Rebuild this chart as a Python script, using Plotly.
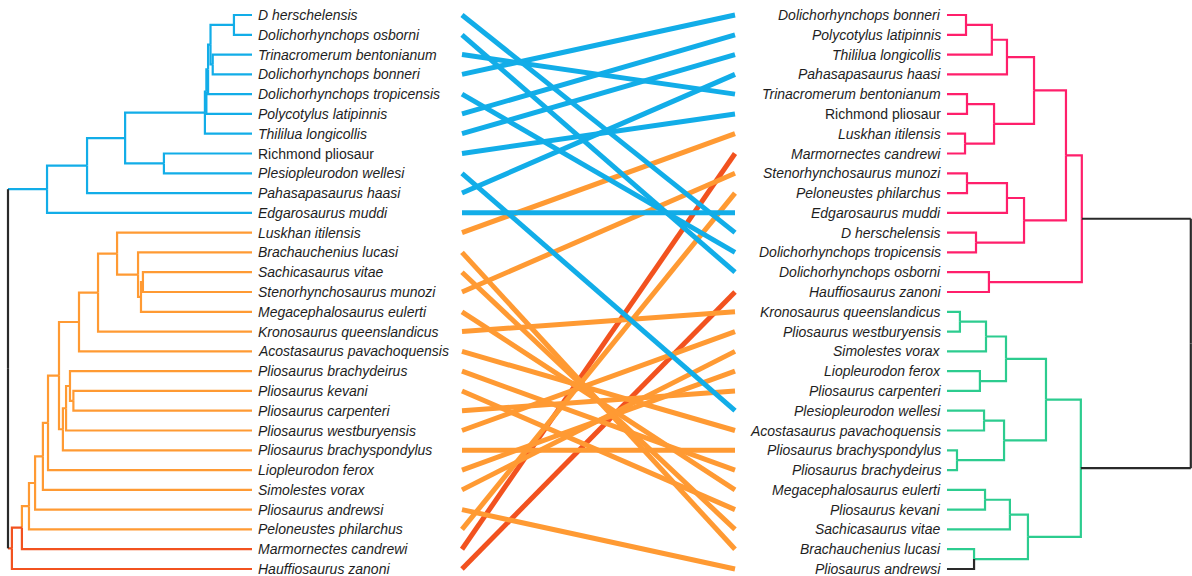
import plotly.graph_objects as go

# ---- leaf orders -------------------------------------------------------
left_leaves = [
    "D herschelensis", "Dolichorhynchops osborni", "Trinacromerum bentonianum",
    "Dolichorhynchops bonneri", "Dolichorhynchops tropicensis", "Polycotylus latipinnis",
    "Thililua longicollis", "Richmond pliosaur", "Plesiopleurodon wellesi",
    "Pahasapasaurus haasi", "Edgarosaurus muddi", "Luskhan itilensis",
    "Brachauchenius lucasi", "Sachicasaurus vitae", "Stenorhynchosaurus munozi",
    "Megacephalosaurus eulerti", "Kronosaurus queenslandicus", "Acostasaurus pavachoquensis",
    "Pliosaurus brachydeirus", "Pliosaurus kevani", "Pliosaurus carpenteri",
    "Pliosaurus westburyensis", "Pliosaurus brachyspondylus", "Liopleurodon ferox",
    "Simolestes vorax", "Pliosaurus andrewsi", "Peloneustes philarchus",
    "Marmornectes candrewi", "Hauffiosaurus zanoni",
]

right_leaves = [
    "Dolichorhynchops bonneri", "Polycotylus latipinnis", "Thililua longicollis",
    "Pahasapasaurus haasi", "Trinacromerum bentonianum", "Richmond pliosaur",
    "Luskhan itilensis", "Marmornectes candrewi", "Stenorhynchosaurus munozi",
    "Peloneustes philarchus", "Edgarosaurus muddi", "D herschelensis",
    "Dolichorhynchops tropicensis", "Dolichorhynchops osborni", "Hauffiosaurus zanoni",
    "Kronosaurus queenslandicus", "Pliosaurus westburyensis", "Simolestes vorax",
    "Liopleurodon ferox", "Pliosaurus carpenteri", "Plesiopleurodon wellesi",
    "Acostasaurus pavachoquensis", "Pliosaurus brachyspondylus", "Pliosaurus brachydeirus",
    "Megacephalosaurus eulerti", "Pliosaurus kevani", "Sachicasaurus vitae",
    "Brachauchenius lucasi", "Pliosaurus andrewsi",
]

# ---- merges: (child a, child b, height); "#k" refers to merge k ----------
left_merges = [
    ("D herschelensis", "Dolichorhynchops osborni", 0.074),          # 0
    ("Trinacromerum bentonianum", "Dolichorhynchops bonneri", 0.161), # 1
    ("#0", "#1", 0.170),                                              # 2
    ("#2", "Dolichorhynchops tropicensis", 0.180),                    # 3
    ("#3", "Polycotylus latipinnis", 0.187),                          # 4
    ("#4", "Thililua longicollis", 0.193),                            # 5
    ("Richmond pliosaur", "Plesiopleurodon wellesi", 0.361),          # 6
    ("#5", "#6", 0.520),                                              # 7
    ("#7", "Pahasapasaurus haasi", 0.676),                            # 8
    ("#8", "Edgarosaurus muddi", 0.840),                              # 9
    ("Sachicasaurus vitae", "Stenorhynchosaurus munozi", 0.447),      # 10
    ("#10", "Megacephalosaurus eulerti", 0.455),                      # 11
    ("Brachauchenius lucasi", "#11", 0.467),                          # 12
    ("Luskhan itilensis", "#12", 0.553),                              # 13
    ("#13", "Kronosaurus queenslandicus", 0.631),                     # 14
    ("#14", "Acostasaurus pavachoquensis", 0.709),                    # 15
    ("Pliosaurus kevani", "Pliosaurus carpenteri", 0.732),            # 16
    ("Pliosaurus brachydeirus", "#16", 0.746),                        # 17
    ("#17", "Pliosaurus westburyensis", 0.762),                       # 18
    ("#18", "Pliosaurus brachyspondylus", 0.775),                     # 19
    ("#15", "#19", 0.791),                                            # 20
    ("#20", "Liopleurodon ferox", 0.836),                             # 21
    ("#21", "Simolestes vorax", 0.857),                               # 22
    ("#22", "Pliosaurus andrewsi", 0.889),                            # 23
    ("#23", "Peloneustes philarchus", 0.914),                         # 24
    ("#24", "Marmornectes candrewi", 0.943),                          # 25
    ("#25", "Hauffiosaurus zanoni", 0.984),                           # 26
    ("#9", "#26", 1.000),                                             # 27
]

right_merges = [
    ("Dolichorhynchops bonneri", "Polycotylus latipinnis", 0.078),    # 0
    ("#0", "Thililua longicollis", 0.184),                            # 1
    ("#1", "Pahasapasaurus haasi", 0.246),                            # 2
    ("Trinacromerum bentonianum", "Richmond pliosaur", 0.082),        # 3
    ("Luskhan itilensis", "Marmornectes candrewi", 0.074),            # 4
    ("#3", "#4", 0.193),                                              # 5
    ("#2", "#5", 0.357),                                              # 6
    ("Stenorhynchosaurus munozi", "Peloneustes philarchus", 0.082),   # 7
    ("#7", "Edgarosaurus muddi", 0.246),                              # 8
    ("D herschelensis", "Dolichorhynchops tropicensis", 0.119),       # 9
    ("#8", "#9", 0.316),                                              # 10
    ("#6", "#10", 0.488),                                             # 11
    ("Dolichorhynchops osborni", "Hauffiosaurus zanoni", 0.172),      # 12
    ("#11", "#12", 0.553),                                            # 13
    ("Kronosaurus queenslandicus", "Pliosaurus westburyensis", 0.053),# 14
    ("#14", "Simolestes vorax", 0.160),                               # 15
    ("Liopleurodon ferox", "Pliosaurus carpenteri", 0.135),           # 16
    ("#15", "#16", 0.242),                                            # 17
    ("Plesiopleurodon wellesi", "Acostasaurus pavachoquensis", 0.152),# 18
    ("Pliosaurus brachyspondylus", "Pliosaurus brachydeirus", 0.041), # 19
    ("#18", "#19", 0.234),                                            # 20
    ("#17", "#20", 0.406),                                            # 21
    ("Megacephalosaurus eulerti", "Pliosaurus kevani", 0.156),        # 22
    ("#22", "Sachicasaurus vitae", 0.258),                            # 23
    ("Brachauchenius lucasi", "Pliosaurus andrewsi", 0.111),          # 24
    ("#23", "#24", 0.332),                                            # 25
    ("#21", "#25", 0.549),                                            # 26
    ("#13", "#26", 1.000),                                            # 27
]

# ---- colours -----------------------------------------------------------
BLUE = "#12ADE8"
ORANGE = "#FF9A33"
RED = "#F2521F"
PINK = "#FF1F6B"
GREEN = "#2CCC8F"
DARK = "#2a2a2a"
TEXT = "#1e1e1e"

left_clades = {"#9": BLUE, "#26": RED, "#24": ORANGE}
right_clades = {"#13": PINK, "#26": GREEN, "Pliosaurus andrewsi": DARK}


def layout_tree(leaves, merges):
    pos = {name: (0.0, float(i)) for i, name in enumerate(leaves)}
    children = {}
    for k, (a, b, h) in enumerate(merges):
        key = "#%d" % k
        pos[key] = (h, (pos[a][1] + pos[b][1]) / 2.0)
        children[key] = (a, b)
    return pos, children


def node_colours(children, root, clades):
    col = {}

    def walk(node, inherited):
        c = clades.get(node, inherited)
        col[node] = c
        for ch in children.get(node, ()):
            walk(ch, c)

    walk(root, DARK)
    return col


def tree_traces(leaves, merges, clades, xaxis, root_edges_dark):
    pos, children = layout_tree(leaves, merges)
    root = "#%d" % (len(merges) - 1)
    col = node_colours(children, root, clades)
    segs = {}

    def add(colour, xs, ys):
        bx, by = segs.setdefault(colour, ([], []))
        bx.extend(xs + [None])
        by.extend(ys + [None])

    for parent, (a, b) in children.items():
        hp, yp = pos[parent]
        for ch in (a, b):
            hc, yc = pos[ch]
            if parent == root:
                add(DARK, [hp, hp], [yp, yc])
                add(DARK if root_edges_dark else col[ch], [hp, hc], [yc, yc])
            else:
                add(col[ch], [hp, hp, hc], [yp, yc, yc])
    traces = []
    for colour, (xs, ys) in segs.items():
        traces.append(go.Scatter(
            x=xs, y=ys, mode="lines", xaxis=xaxis, yaxis="y",
            line=dict(color=colour, width=2.2), hoverinfo="skip", showlegend=False,
        ))
    return traces, col


fig = go.Figure()

left_tr, left_col = tree_traces(left_leaves, left_merges, left_clades, "x", False)
right_tr, right_col = tree_traces(right_leaves, right_merges, right_clades, "x3", True)

# connecting lines between the two leaf orders, coloured by the left clade
right_index = {name: i for i, name in enumerate(right_leaves)}
for i in reversed(range(len(left_leaves))):
    name = left_leaves[i]
    fig.add_trace(go.Scatter(
        x=[0, 1], y=[i, right_index[name]], mode="lines", xaxis="x2", yaxis="y",
        line=dict(color=left_col[name], width=5), hoverinfo="skip", showlegend=False,
    ))

for t in left_tr + right_tr:
    fig.add_trace(t)


def label(name):
    return name if name == "Richmond pliosaur" else "<i>%s</i>" % name


FONT = dict(family="Liberation Sans, Arial, sans-serif", size=14, color=TEXT)
annotations = []
for i, name in enumerate(left_leaves):
    annotations.append(dict(
        x=0, y=i, xref="x", yref="y", text=label(name), showarrow=False,
        xanchor="left", yanchor="middle", xshift=4, font=FONT,
    ))
for i, name in enumerate(right_leaves):
    annotations.append(dict(
        x=0, y=i, xref="x3", yref="y", text=label(name), showarrow=False,
        xanchor="right", yanchor="middle", xshift=-4, font=FONT,
    ))

W, H = 1192, 576
hidden = dict(visible=False, showgrid=False, zeroline=False, fixedrange=True)
fig.update_layout(
    width=W, height=H, margin=dict(l=0, r=0, t=0, b=0),
    paper_bgcolor="white", plot_bgcolor="white", showlegend=False,
    annotations=annotations,
    xaxis=dict(domain=[0, 260 / W], range=[1 + 8 / 244, -8 / 244], **hidden),
    xaxis2=dict(domain=[455 / W, 742 / W], range=[-7 / 273, 1 + 7 / 273], **hidden),
    xaxis3=dict(domain=[940 / W, 1.0], range=[-7 / 244, 1 + 1.2 / 244], **hidden),
    yaxis=dict(domain=[0, 1], range=[561 / 19.786, -15 / 19.786], **hidden),
)

fig.write_html("out.html")
